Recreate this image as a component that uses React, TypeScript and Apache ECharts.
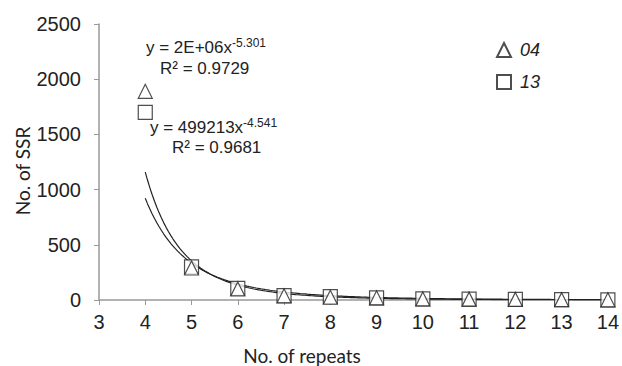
import React, { useEffect, useRef } from "react";
import * as echarts from "echarts";

const repeats = [4, 5, 6, 7, 8, 9, 10, 11, 12, 13, 14];
const ssr04 = [1890, 290, 100, 38, 25, 20, 10, 8, 5, 3, 2];
const ssr13 = [1700, 300, 105, 40, 30, 20, 10, 8, 6, 3, 2];
// power trendline coefficients (a * x^b)
const trend04 = [1.8e6, -5.301];
const trend13 = [499213, -4.541];
const xTicks = [3, 14, 1];
const yTicks = [0, 2500, 500];

function curve(c: number[]) {
  const pts: number[][] = [];
  for (let x = 4; x <= 14.0001; x += 0.05) pts.push([x, c[0] * Math.pow(x, c[1])]);
  return pts;
}

export default function App() {
  const ref = useRef<HTMLDivElement>(null);
  useEffect(() => {
    const chart = echarts.init(ref.current!, null, { renderer: "svg" });
    const font = "Liberation Sans, Arial, sans-serif";
    const titleFont = "Lato, Open Sans, sans-serif";
    const mk = (name: string, symbol: string, data: number[], size: number) => ({
      name,
      type: "scatter",
      symbol,
      symbolSize: size,
      data: repeats.map((r, i) => [r, data[i]]),
      itemStyle: { color: "#ffffff", borderColor: "#222", borderWidth: 1.2 },
      z: 5,
    });
    const rich = {
      b: { fontFamily: font, fontSize: 17, fill: "#222" },
      s: { fontFamily: font, fontSize: 12, fill: "#222", verticalAlign: "top", padding: [0, 0, 9, 0] },
    };
    chart.setOption({
      animation: false,
      backgroundColor: "#ffffff",
      grid: { left: 99, right: 13, top: 24, bottom: 66 },
      xAxis: {
        type: "value",
        min: xTicks[0],
        max: xTicks[1],
        interval: xTicks[2],
        axisLine: { lineStyle: { color: "#999", width: 1.5 } },
        axisTick: { lineStyle: { color: "#999" }, length: 5 },
        axisLabel: { fontFamily: font, fontSize: 20, color: "#222", margin: 12 },
        splitLine: { show: false },
      },
      yAxis: {
        type: "value",
        min: yTicks[0],
        max: yTicks[1],
        interval: yTicks[2],
        axisLine: { show: true, lineStyle: { color: "#999", width: 1.5 } },
        axisTick: { show: true, lineStyle: { color: "#999" }, length: 5 },
        axisLabel: { fontFamily: font, fontSize: 20, color: "#222", margin: 18, formatter: (v: number) => String(v) },
        splitLine: { show: false },
      },
      legend: {
        data: [
          { name: "04", icon: "triangle" },
          { name: "13", icon: "rect" },
        ],
        orient: "vertical",
        left: 491,
        top: 36,
        itemWidth: 14,
        itemHeight: 14,
        itemGap: 14,
        textStyle: { fontFamily: font, fontSize: 18, fontStyle: "italic", color: "#222", padding: [0, 0, 0, 4] },
      },
      series: [
        {
          type: "line",
          name: "t04",
          data: curve(trend04),
          showSymbol: false,
          lineStyle: { color: "#222", width: 1.2 },
          z: 3,
        },
        {
          type: "line",
          name: "t13",
          data: curve(trend13),
          showSymbol: false,
          lineStyle: { color: "#222", width: 1.2 },
          z: 3,
        },
        mk("13", "rect", ssr13, 14),
        mk("04", "triangle", ssr04, 14),
      ],
      graphic: [
        {
          type: "text",
          left: 146,
          top: 37,
          style: { text: "{b|y = 2E+06x}{s|-5.301}", rich },
        },
        {
          type: "text",
          left: 160,
          top: 60,
          style: { text: "R² = 0.9729", font: "17px Liberation Sans, Arial, sans-serif", fill: "#222" },
        },
        {
          type: "text",
          left: 150,
          top: 117,
          style: { text: "{b|y = 499213x}{s|-4.541}", rich },
        },
        {
          type: "text",
          left: 172,
          top: 139,
          style: { text: "R² = 0.9681", font: "17px Liberation Sans, Arial, sans-serif", fill: "#222" },
        },
        {
          type: "text",
          x: 302,
          y: 355,
          style: {
            text: "No. of repeats",
            font: "19px " + titleFont,
            fill: "#222",
            textAlign: "center",
            textVerticalAlign: "middle",
          },
        },
        {
          type: "text",
          x: 22,
          y: 171,
          rotation: Math.PI / 2,
          style: {
            text: "No. of SSR",
            font: "19px " + titleFont,
            fill: "#222",
            textAlign: "center",
            textVerticalAlign: "middle",
          },
        },
      ],
    });
    return () => chart.dispose();
  }, []);
  return <div ref={ref} style={{ width: 622, height: 366, position: "absolute", left: 0, top: 0 }} />;
}
